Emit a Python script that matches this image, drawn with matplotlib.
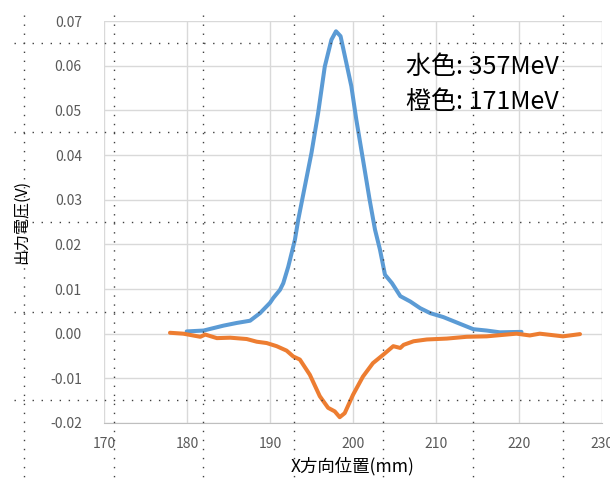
import matplotlib
matplotlib.use('Agg')
import matplotlib.pyplot as plt
from matplotlib.lines import Line2D

plt.rcParams['font.family'] = ['Noto Sans CJK JP', 'DejaVu Sans']

# 水色 (357MeV)
blue_x = [179.96, 182.0, 184.4, 186.0, 187.6, 188.8, 190.0, 190.4, 191.2, 191.6,
          192.2, 192.6, 193.0, 193.4, 194.2, 195.0, 195.8, 196.6, 197.4, 197.95,
          198.5, 199.2, 199.8, 200.4, 201.2, 202.0, 202.65, 203.25, 203.85, 204.7,
          205.7, 206.9, 208.1, 209.3, 210.9, 212.9, 214.5, 216.1, 217.7, 220.3]
blue_v = [0.0005, 0.0007, 0.0018, 0.0024, 0.0029, 0.0046, 0.0069, 0.0080, 0.0098, 0.0113,
          0.0150, 0.0180, 0.0210, 0.0255, 0.0330, 0.0405, 0.0494, 0.0598, 0.0658, 0.0677,
          0.0666, 0.0606, 0.0554, 0.0479, 0.0390, 0.0300, 0.0233, 0.0188, 0.0132, 0.0113,
          0.0084, 0.0072, 0.0057, 0.0046, 0.0037, 0.0022, 0.0010, 0.0007, 0.0003, 0.0004]

# 橙色 (171MeV)
orange_x = [177.95, 179.55, 181.6, 182.2, 183.6, 185.2, 187.2, 188.4, 189.6, 190.8,
            192.0, 192.8, 193.6, 194.8, 196.0, 197.0, 197.8, 198.4, 199.0, 200.0,
            201.2, 202.4, 203.65, 204.85, 205.7, 206.1, 207.3, 208.9, 211.3, 213.7,
            216.1, 218.5, 219.7, 221.3, 222.5, 225.3, 227.35]
orange_v = [0.0002, 0.0, -0.0007, -0.0002, -0.0010, -0.0009, -0.0012, -0.0018, -0.0021, -0.0028,
            -0.0038, -0.0051, -0.0058, -0.0092, -0.0140, -0.0166, -0.0174, -0.0187, -0.0178, -0.0137,
            -0.0096, -0.0066, -0.0047, -0.0028, -0.0032, -0.0025, -0.0017, -0.0013, -0.0011, -0.0007,
            -0.0006, -0.0002, 0.0, -0.0004, 0.0, -0.0006, -0.0001]

x_ticks = [170, 180, 190, 200, 210, 220, 230]
y_ticks = [-0.02, -0.01, 0.00, 0.01, 0.02, 0.03, 0.04, 0.05, 0.06, 0.07]

W, H = 610, 479
fig = plt.figure(figsize=(W / 100, H / 100), dpi=100)
ax = fig.add_axes([104 / W, 1 - 423 / H, (602 - 104) / W, (423 - 21) / H])

ax.plot(blue_x, blue_v, color='#5B9BD5', lw=2.9, solid_capstyle='round', solid_joinstyle='round')
ax.plot(orange_x, orange_v, color='#ED7D31', lw=2.9, solid_capstyle='round', solid_joinstyle='round')

ax.set_xlim(170, 230)
ax.set_ylim(-0.02, 0.07)
ax.set_xticks(x_ticks)
ax.set_yticks(y_ticks)
ax.set_yticklabels(['%.2f' % v for v in y_ticks])
ax.grid(True, color='#d9d9d9', lw=1.0)
ax.set_axisbelow(True)
for s in ['top', 'right', 'left']:
    ax.spines[s].set_visible(False)
ax.spines['bottom'].set_color('#bfbfbf')
ax.tick_params(length=0, labelsize=10, labelcolor='#595959')
ax.tick_params(axis='y', pad=16)
ax.tick_params(axis='x', pad=10)

ax.set_xlabel('X方向位置(mm)', fontsize=12.5, labelpad=4)
ax.set_ylabel('出力電圧(V)', fontsize=11.5, labelpad=14)

fig.text(406 / W, 1 - 67 / H, '水色: 357MeV', fontsize=18, va='center', ha='left')
fig.text(406 / W, 1 - 102 / H, '橙色: 171MeV', fontsize=18, va='center', ha='left')

# dotted page-break lines over the sheet
dot = dict(color='#404040', lw=1.0, linestyle=(0, (1, 5.5)), zorder=10)
for px in [24, 114, 203, 294, 383, 473, 563]:
    fig.add_artist(Line2D([px / W, px / W], [1 - 15 / H, 0], transform=fig.transFigure, **dot))
for py in [43, 132, 222, 312, 400]:
    fig.add_artist(Line2D([14 / W, 1], [1 - py / H, 1 - py / H], transform=fig.transFigure, **dot))

fig.savefig('out.png', dpi=100)
